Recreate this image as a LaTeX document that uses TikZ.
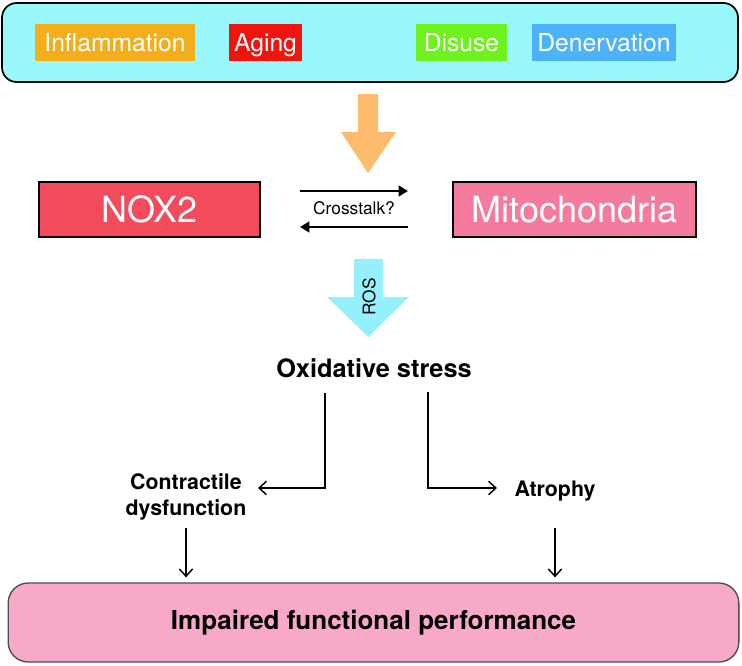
\documentclass[tikz,border=0pt]{standalone}
\usepackage{fontspec}
\setmainfont{TeX Gyre Heros}
\usepackage{xcolor}
\usepackage{tikz}
\usetikzlibrary{arrows.meta,positioning}
\definecolor{causecyan}{HTML}{98F8FC}
\definecolor{inflorange}{HTML}{F4AE1C}
\definecolor{agingred}{HTML}{F0140C}
\definecolor{disusegreen}{HTML}{6EF21E}
\definecolor{denervblue}{HTML}{4DB3F9}
\definecolor{bigorange}{HTML}{FDBB6E}
\definecolor{noxred}{HTML}{F34A5C}
\definecolor{mitopink}{HTML}{F47A9E}
\definecolor{roscyan}{HTML}{96F0FB}
\definecolor{perfpink}{HTML}{F8A8C8}
\tikzset{
	tag/.style={text=white,font=\fontsize{18.5}{20}\selectfont,inner sep=0pt,text height=15pt,text depth=2pt,minimum height=27.75pt},
	source/.style={draw=black,line width=1.5pt,text=white,font=\fontsize{27}{30}\selectfont,inner sep=0pt,minimum height=41.25pt},
	effect/.style={font=\bfseries\fontsize{16}{19}\selectfont,align=center,inner sep=0pt},
	flow/.style={line width=1.1pt,-{Straight Barb[length=5.5pt,width=10pt]}},
	talk/.style={line width=1.8pt,-{Triangle[length=7pt,width=8pt]}}
}
\begin{document}
\begin{tikzpicture}[x=0.75pt,y=-0.75pt]
	\useasboundingbox (0,0) rectangle (742,665);
	\node[draw=black,line width=1.3pt,fill=causecyan,rounded corners=11pt,minimum width=552pt,minimum height=59.25pt] (causes) at (370,42.5) {};
	\node[tag,fill=inflorange,minimum width=120pt] (infl) at (115,42.5) {Inflammation};
	\node[tag,fill=agingred,minimum width=54.75pt] (aging) at (265.5,42.5) {Aging};
	\node[tag,fill=disusegreen,minimum width=68.25pt] (disuse) at (461.5,42.5) {Disuse};
	\node[tag,fill=denervblue,minimum width=108pt] (denerv) at (604,42.5) {Denervation};
	\fill[bigorange] (358,94) -- (378,94) -- (378,132) -- (396,132) -- (368,173) -- (341,132) -- (358,132) -- cycle;
	\node[source,fill=noxred,minimum width=165.75pt] (nox) at (149.5,209.5) {NOX2};
	\node[source,fill=mitopink,minimum width=182.25pt] (mito) at (574.5,209.5) {Mitochondria};
	\coordinate (t1) at (300,191);
	\coordinate (t2) at (408,191);
	\coordinate (t3) at (408,227);
	\coordinate (t4) at (300,227);
	\draw[talk] (t1) -- (t2);
	\draw[talk] (t3) -- (t4);
	\node[font=\fontsize{13}{15}\selectfont] (talk) at (354,208) {Crosstalk?};
	\fill[roscyan] (354,259) -- (383,259) -- (383,297) -- (409,297) -- (368.5,337) -- (327,297) -- (354,297) -- cycle;
	\node[rotate=90,font=\fontsize{13}{15}\selectfont] (ros) at (369,297) {ROS};
	\node[font=\bfseries\fontsize{19}{22}\selectfont] (ox) at (374,368) {Oxidative stress};
	\node[effect] (contr) at (186,497) {Contractile\\dysfunction};
	\node[effect] (atro) at (555,491) {Atrophy};
	\node[draw=black!70,line width=1pt,fill=perfpink,rounded corners=15pt,minimum width=548pt,minimum height=59.25pt,font=\bfseries\fontsize{19.5}{22}\selectfont] (perf) at (373.5,622.5) {Impaired functional performance};
	\coordinate (ol) at (325,393);
	\coordinate (cl) at (258,488);
	\coordinate (or) at (428,392);
	\coordinate (ar) at (497,488);
	\draw[flow] (ol) |- (cl);
	\draw[flow] (or) |- (ar);
	\coordinate (cd) at (186,528);
	\coordinate (ad) at (555,528);
	\draw[flow,shorten >=3.75pt] (cd) -- (cd |- perf.north);
	\draw[flow,shorten >=3.75pt] (ad) -- (ad |- perf.north);
\end{tikzpicture}
\end{document}
